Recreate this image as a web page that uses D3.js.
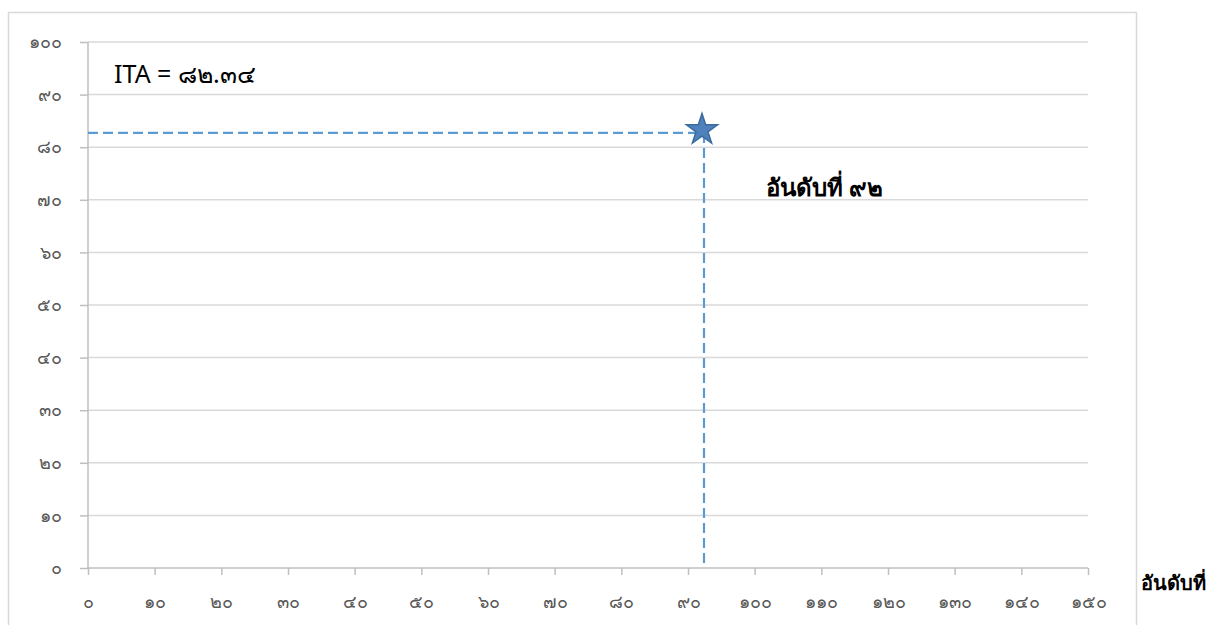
<!DOCTYPE html>
<html>
<head>
<meta charset="utf-8">
<script src="https://cdn.jsdelivr.net/npm/d3@7"></script>
<style>
  body { margin: 0; background: #fff; }
  text { font-family: Tahoma, "Noto Sans", "DejaVu Sans", sans-serif; }
</style>
</head>
<body>
<svg id="chart" width="1208" height="625"></svg>
<script>
const thai_digits = '๐๑๒๓๔๕๖๗๘๙';
const to_thai = (s) => String(s).replace(/[0-9]/g, (c) => thai_digits[+c]);

const x_ticks = [0, 10, 20, 30, 40, 50, 60, 70, 80, 90, 100, 110, 120, 130, 140, 150];
const y_ticks = [0, 10, 20, 30, 40, 50, 60, 70, 80, 90, 100];
const point_rank = [92.4];
const point_score = [82.34];
const ita_label = 'ITA = ๘๒.๓๔';
const rank_label = 'อันดับที่ ๙๒';
const x_title = 'อันดับที่';

const width = 1208;
const height = 625;
const margin = { left: 88, right: 120, top: 42, bottom: 57 };

const svg = d3.select('#chart');

// chart frame
svg
  .append('rect')
  .attr('x', 8.5)
  .attr('y', 12.5)
  .attr('width', 1128)
  .attr('height', 640)
  .attr('fill', 'none')
  .attr('stroke', '#d9d9d9')
  .attr('stroke-width', 1.5);

const x = d3.scaleLinear([0, 150], [margin.left, width - margin.right]);
const y = d3.scaleLinear([0, 100], [height - margin.bottom, margin.top]);

// gridlines
svg
  .append('g')
  .selectAll('line')
  .data(y_ticks.filter((d) => d > 0))
  .join('line')
  .attr('x1', x(0))
  .attr('x2', x(150))
  .attr('y1', (d) => y(d))
  .attr('y2', (d) => y(d))
  .attr('stroke', '#d9d9d9')
  .attr('stroke-width', 1.5);

// y axis
const y_axis = svg
  .append('g')
  .attr('transform', `translate(${x(0)},0)`)
  .call(
    d3
      .axisLeft(y)
      .tickValues(y_ticks)
      .tickSize(8)
      .tickPadding(18)
      .tickFormat(to_thai)
  );
y_axis.select('.domain').attr('stroke', '#bfbfbf').attr('stroke-width', 1.5).attr('d', `M0,${y(0)}V${y(100)}`);
y_axis.selectAll('.tick line').attr('stroke', '#bfbfbf').attr('stroke-width', 1.5);
y_axis.selectAll('.tick text').attr('fill', '#595959').style('font-size', '18px');

// x axis
const x_axis = svg
  .append('g')
  .attr('transform', `translate(0,${y(0)})`)
  .call(
    d3
      .axisBottom(x)
      .tickValues(x_ticks)
      .tickSize(7)
      .tickPadding(20)
      .tickFormat(to_thai)
  );
x_axis.select('.domain').attr('stroke', '#bfbfbf').attr('stroke-width', 1.5).attr('d', `M${x(0)},0H${x(150)}`);
x_axis.selectAll('.tick line').attr('stroke', '#bfbfbf').attr('stroke-width', 1.5);
x_axis.selectAll('.tick text').attr('fill', '#595959').style('font-size', '18px');

// drop lines to the point
const px = x(point_rank[0]);
const py = y(point_score[0]);
svg
  .append('path')
  .attr('d', `M${x(0)},${py - 2}H${px}`)
  .attr('fill', 'none')
  .attr('stroke', '#5b9bd5')
  .attr('stroke-width', 2.2)
  .attr('stroke-dasharray', '10,5');
svg
  .append('path')
  .attr('d', `M${px},${py - 2}V${y(0)}`)
  .attr('fill', 'none')
  .attr('stroke', '#5b9bd5')
  .attr('stroke-width', 2.2)
  .attr('stroke-dasharray', '10,5');

// star marker
svg
  .append('path')
  .attr('d', d3.symbol(d3.symbolStar, 300)())
  .attr('transform', `translate(${px - 2},${py - 5})`)
  .attr('fill', '#4f81bd')
  .attr('stroke', '#3b6b9e')
  .attr('stroke-width', 1.5);

// annotations
svg
  .append('text')
  .attr('x', 114)
  .attr('y', 83)
  .style('font-size', '25px')
  .attr('fill', '#000')
  .text(ita_label);

svg
  .append('text')
  .attr('x', 766)
  .attr('y', 196)
  .style('font-size', '24px')
  .style('font-weight', 'bold')
  .attr('fill', '#000')
  .text(rank_label);

svg
  .append('text')
  .attr('x', 1141)
  .attr('y', 590)
  .style('font-size', '20px')
  .style('font-weight', 'bold')
  .attr('fill', '#000')
  .text(x_title);
</script>
</body>
</html>
